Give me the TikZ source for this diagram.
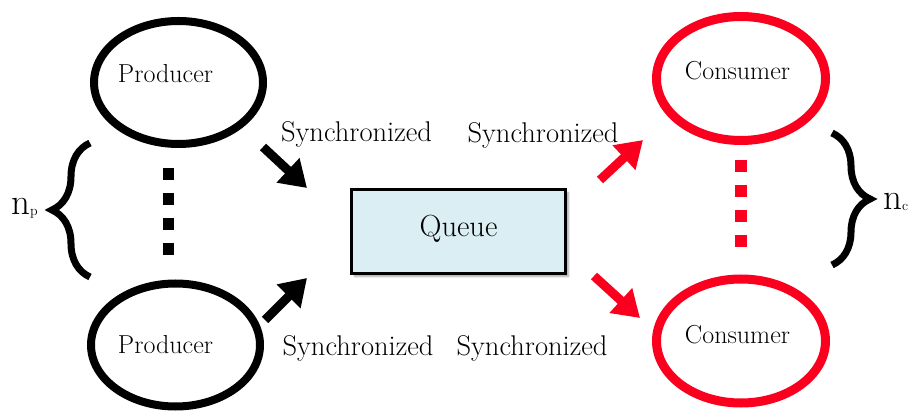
\documentclass[tikz,border=0pt]{standalone}
\usepackage{fontspec}
\usetikzlibrary{arrows.meta,shapes.geometric,decorations.pathreplacing,shadows.blur}
\definecolor{cred}{RGB}{250,0,30}
\definecolor{qfill}{RGB}{219,238,243}
\tikzset{
  prodshape/.style={ellipse, draw=black, line width=8pt, minimum width=169pt, minimum height=123pt, inner sep=0pt},
  consshape/.style={ellipse, draw=cred, line width=9pt, minimum width=169pt, minimum height=124pt, inner sep=0pt},
  lbl/.style={anchor=base, inner sep=0pt, font=\fontsize{26}{26}\selectfont},
  synclbl/.style={anchor=base, inner sep=0pt, font=\fontsize{28.5}{29}\selectfont},
  countlbl/.style={anchor=base west, inner sep=0pt, font=\fontsize{37}{37}\selectfont},
  flow/.style={line width=9pt, -{Triangle[length=26pt,width=32pt]}},
  bracestyle/.style={line width=7pt, decorate, decoration={brace, amplitude=38pt}},
  dotline/.style={line width=11pt, dash pattern=on 12pt off 13pt},
}
\begin{document}
\begin{tikzpicture}[x=1pt, y=-1pt]
  \useasboundingbox (0,0) rectangle (912,419);

  % producers
  \node[prodshape] (p1) at (178.5,82.5) {};
  \node[lbl] (p1t) at (165.5,83) {Producer};
  \node[prodshape] (p2) at (175.5,345) {};
  \node[lbl] (p2t) at (165.5,353) {Producer};

  % consumers
  \node[consshape] (c1) at (741,78.5) {};
  \node[lbl] (c1t) at (737.5,80) {Consumer};
  \node[consshape] (c2) at (741,341) {};
  \node[lbl] (c2t) at (737.5,343) {Consumer};

  % queue
  \node[draw=black, line width=3pt, fill=qfill, minimum width=214pt, minimum height=84pt, inner sep=0pt,
        blur shadow={shadow xshift=3pt, shadow yshift=-3pt, shadow blur steps=6, shadow opacity=35}]
        (queue) at (458.5,231.5) {};
  \node[anchor=base, inner sep=0pt, font=\fontsize{30.5}{31}\selectfont] (qt) at (458.5,237) {Queue};

  % "more of the same" dots
  \coordinate (pd1) at (168,168);
  \coordinate (pd2) at (168,256);
  \draw[dotline, black] (pd1) -- (pd2);
  \coordinate (cd1) at (741,160);
  \coordinate (cd2) at (741,248);
  \draw[dotline, cred, line width=12pt] (cd1) -- (cd2);

  % braces and counts
  \coordinate (lb1) at (90,277);
  \coordinate (lb2) at (90,143);
  \draw[bracestyle] (lb1) -- (lb2);
  \node[countlbl] (np) at (11,215) {n\raisebox{-1pt}{\fontsize{14}{14}\selectfont p}};
  \coordinate (rb1) at (832,133);
  \coordinate (rb2) at (832,265);
  \draw[bracestyle] (rb1) -- (rb2);
  \node[countlbl] (nc) at (883,210) {n\raisebox{-1pt}{\fontsize{14}{14}\selectfont c}};

  % synchronized transfers
  \coordinate (a1s) at (263,147);
  \coordinate (a1e) at (307,188);
  \draw[flow, black] (a1s) -- (a1e);
  \coordinate (a2s) at (265,320);
  \coordinate (a2e) at (307,278);
  \draw[flow, black] (a2s) -- (a2e);
  \coordinate (a3s) at (600,180);
  \coordinate (a3e) at (643,140);
  \draw[flow, cred] (a3s) -- (a3e);
  \coordinate (a4s) at (594,276);
  \coordinate (a4e) at (640,318);
  \draw[flow, cred] (a4s) -- (a4e);

  \node[synclbl] (s1) at (356.5,142) {Synchronized};
  \node[synclbl] (s2) at (358,355) {Synchronized};
  \node[synclbl] (s3) at (543,143) {Synchronized};
  \node[synclbl] (s4) at (532,355) {Synchronized};
\end{tikzpicture}
\end{document}
